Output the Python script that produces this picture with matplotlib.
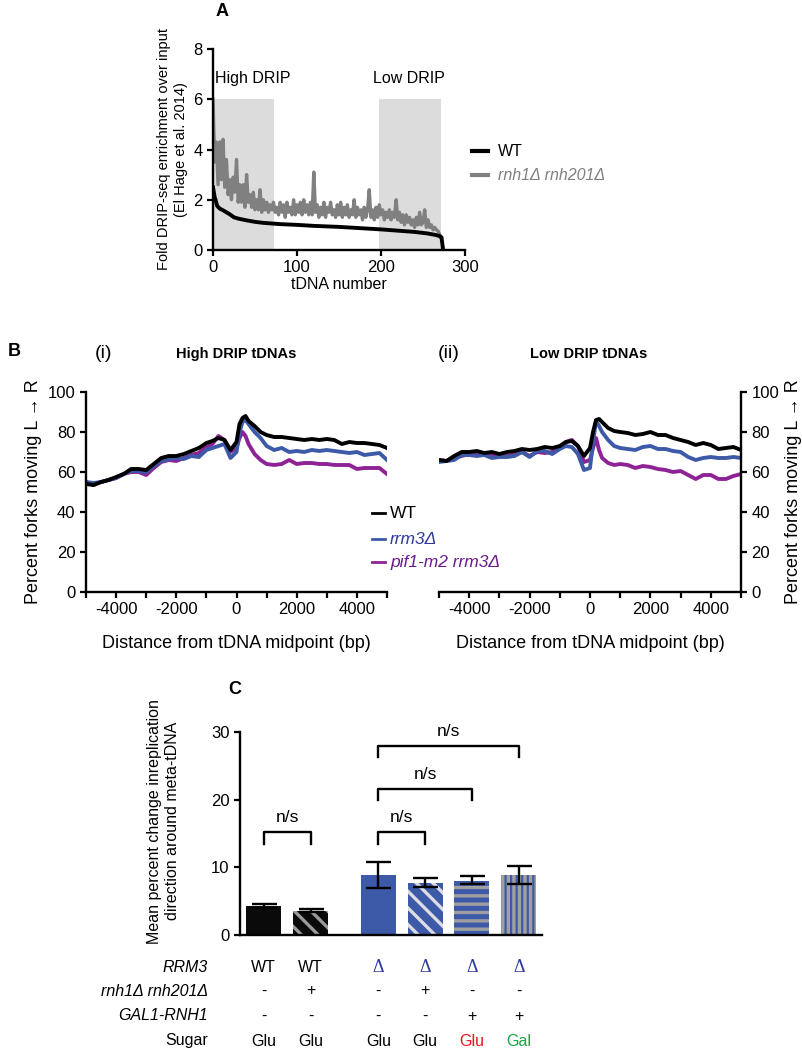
import numpy as np
import matplotlib.pyplot as plt
from matplotlib.lines import Line2D

plt.rcParams['font.family'] = ['Liberation Sans', 'DejaVu Sans']
plt.rcParams['hatch.linewidth'] = 2.4

# ---------------- data: panel A ----------------
wt_a_x = [0, 1, 2, 3, 5, 8, 12, 16, 20, 25, 30, 40, 50, 60, 80, 100, 120, 150,
          180, 200, 220, 240, 255, 265, 270, 272, 273, 274]
wt_a_y = [2.5, 2.3, 2.1, 2.0, 1.75, 1.65, 1.58, 1.5, 1.42, 1.3, 1.25, 1.18, 1.12,
          1.08, 1.03, 1.0, 0.96, 0.92, 0.86, 0.82, 0.77, 0.72, 0.66, 0.6, 0.55, 0.5, 0.25, 0.0]
rnh_a_y = [6.0, 3.5, 4.3, 2.6, 4.3, 2.8, 4.4, 2.5, 3.6, 2.2, 2.8, 2.0, 2.9, 2.3, 3.6, 1.9,
           2.6, 1.9, 2.6, 1.7, 3.0, 1.9, 2.2, 1.7, 2.3, 1.6, 2.0, 1.6, 2.4, 1.5, 2.0, 1.6,
           1.9, 1.5, 1.8, 1.6, 1.9, 1.5, 1.7, 1.4, 1.9, 1.5, 1.8, 1.3, 1.9, 1.5, 1.7, 1.4,
           2.0, 1.4, 1.8, 1.5, 1.9, 1.4, 2.0, 1.5, 1.8, 1.4, 1.9, 1.4, 3.1, 1.5, 1.8, 1.3,
           1.7, 1.4, 1.9, 1.3, 1.7, 1.5, 1.9, 1.4, 1.6, 1.3, 1.8, 1.4, 1.9, 1.3, 1.7, 1.4,
           1.8, 1.3, 1.6, 1.4, 2.0, 1.3, 1.7, 1.4, 1.6, 1.2, 1.7, 1.3, 1.6, 2.4, 1.3, 1.6,
           1.2, 1.7, 1.3, 1.8, 1.4, 1.6, 1.2, 1.5, 1.3, 1.6, 1.2, 1.5, 1.3, 2.0, 1.2, 1.5,
           1.1, 1.4, 1.0, 1.4, 1.1, 1.3, 1.0, 1.2, 0.9, 1.3, 1.0, 1.5, 1.0, 1.1, 1.6, 0.9,
           1.2, 0.9, 1.0, 0.8, 0.9, 0.8, 0.75, 0.6, 0.5]
rnh_a_x = np.arange(0, 2 * len(rnh_a_y), 2)
high_span = (0, 73)
low_span = (198, 272)

# ---------------- data: panel B ----------------
dist = [-5000, -4750, -4500, -4250, -4000, -3750, -3500, -3250, -3000, -2750, -2500,
        -2250, -2000, -1750, -1500, -1250, -1000, -800, -600, -400, -200, 0, 100, 200,
        300, 400, 600, 800, 1000, 1250, 1500, 1750, 2000, 2250, 2500, 2750, 3000, 3250,
        3500, 3750, 4000, 4250, 4500, 4750, 5000]

hi_wt = [54, 53.5, 55, 56, 57.5, 59, 61.5, 61.5, 61, 64, 67, 68, 68, 69, 70.5, 72, 74.5,
         75.5, 77, 76, 71, 75, 84, 87, 88, 85.5, 83, 80, 78.5, 77.5, 77.5, 77, 76.5, 76,
         76.5, 76, 76.5, 76, 74, 75, 74.5, 74.5, 74, 73.5, 72]
hi_rrm3 = [55, 54.5, 55, 56, 57, 59, 60.5, 60.5, 60, 63, 65.5, 66.5, 67, 66.5, 68, 67.5,
           71, 72, 73, 74, 67, 70, 80, 85, 86, 84, 80, 77, 73, 71, 72, 70, 70.5, 70, 71,
           70.5, 71, 70.5, 70, 69.5, 70, 68.5, 69, 69.5, 66]
hi_pif = [55, 53.5, 55, 56, 57, 59, 60, 60, 58.5, 62, 65, 66, 65.5, 67, 68.5, 69.5, 72.5,
          74, 78, 76, 70, 72, 77, 80, 78, 74, 69, 66, 64, 63.5, 64, 66, 64, 64.5, 64.5, 64,
          64, 63.5, 63.5, 63.5, 61.5, 62, 62, 62, 59]

lo_wt = [66, 65.5, 68, 70, 70, 70.5, 69.5, 70, 69, 70, 70.5, 71.5, 71, 71.5, 72.5, 72, 73,
         75, 75.5, 73, 68, 72, 80, 86, 86.5, 85, 82, 80.5, 80, 79.5, 78.5, 79, 80, 78.5,
         78.5, 77, 76, 75, 73.5, 74.5, 73.5, 71.5, 72, 72.5, 71]
lo_rrm3 = [65, 65.5, 66, 68.5, 68.5, 68, 68.5, 67, 67.5, 67.5, 68, 70, 67.5, 70.5, 70.5, 69,
           71.5, 73, 72.5, 69, 61, 62, 75, 85.5, 83, 80, 76, 73, 72, 71.5, 71, 72.5, 73,
           71.5, 71.5, 70.5, 70, 67.5, 66, 67, 67.5, 67, 67, 67.5, 67]
lo_pif = [66, 65.5, 67, 68, 69, 69, 69, 68, 68, 68, 69, 70, 68, 70, 69.5, 70, 72, 75, 76,
          73, 65, 66, 72, 77, 71, 67, 64.5, 63.5, 64, 63.5, 62, 63, 62.5, 61.5, 61, 60,
          60.5, 58.5, 56.5, 58.5, 58.5, 56.5, 56.5, 58, 59]

# ---------------- data: panel C ----------------
bar_pos = [0, 1, 2.45, 3.45, 4.45, 5.45]
bar_mean = [4.3, 3.6, 8.8, 7.7, 8.05, 8.8]
err_low = [0.3, 0.25, 1.9, 0.6, 0.5, 1.3]
err_high = [0.35, 0.3, 2.05, 0.7, 0.6, 1.4]
col_rrm3 = ['WT', 'WT', 'Δ', 'Δ', 'Δ', 'Δ']
col_rnh = ['-', '+', '-', '+', '-', '-']
col_gal = ['-', '-', '-', '-', '+', '+']
col_sugar = ['Glu', 'Glu', 'Glu', 'Glu', 'Glu', 'Gal']
brackets = [(0, 1, 13.4, 15.2), (2.45, 3.45, 13.4, 15.2), (2.45, 4.45, 19.9, 21.6),
            (2.45, 5.45, 26.3, 28.0)]

BLUE = '#3c5aa8'
PURPLE = '#8e2396'
W, H = 802, 1050

fig = plt.figure(figsize=(W / 100, H / 100), dpi=100)


def box(l, t, r, b):
    return [l / W, 1 - b / H, (r - l) / W, (b - t) / H]


def style(ax, right=False):
    for s in ['top', 'right', 'left', 'bottom']:
        ax.spines[s].set_visible(False)
    ax.spines['bottom'].set_visible(True)
    ax.spines['right' if right else 'left'].set_visible(True)
    for s in ax.spines.values():
        s.set_linewidth(1.7)
    ax.tick_params(width=1.6, length=4, labelsize=12)
    if right:
        ax.yaxis.tick_right()
        ax.yaxis.set_label_position('right')


# ---------------- panel A ----------------
axA = fig.add_axes(box(213, 49, 465, 250))
style(axA)
axA.fill_between(high_span, 0, 6, color='#dcdcdc', lw=0)
axA.fill_between(low_span, 0, 6, color='#dcdcdc', lw=0)
axA.plot(rnh_a_x, rnh_a_y, color='#808080', lw=2.4)
axA.plot(wt_a_x, wt_a_y, color='black', lw=2.8)
axA.set_xlim(0, 300)
axA.set_ylim(0, 8)
axA.set_xticks([0, 100, 200, 300])
axA.set_yticks([0, 2, 4, 6, 8])
axA.set_xlabel('tDNA number', fontsize=11.5, labelpad=1)
axA.set_ylabel('Fold DRIP-seq enrichment over input\n(El Hage et al. 2014)', fontsize=10.5)
axA.text(2, 6.65, 'High DRIP', fontsize=11.5)
axA.text(190, 6.65, 'Low DRIP', fontsize=11.5)
fig.text(216 / W, 1 - 12 / H, 'A', fontsize=13, fontweight='bold', va='center')

fig.add_artist(Line2D([472 / W, 488 / W], [1 - 151 / H] * 2, color='black', lw=3))
fig.text(498 / W, 1 - 151 / H, 'WT', fontsize=11.5, va='center')
fig.add_artist(Line2D([472 / W, 488 / W], [1 - 175 / H] * 2, color='#808080', lw=3))
fig.text(498 / W, 1 - 175 / H, 'rnh1Δ rnh201Δ', fontsize=11.5, va='center',
         style='italic', color='#808080')

# ---------------- panel B ----------------
ticks = list(range(-5000, 5001, 1000))
tick_labels = [str(t) if t % 2000 == 0 and abs(t) < 5000 else '' for t in ticks]

axB1 = fig.add_axes(box(86, 392, 387, 592))
axB2 = fig.add_axes(box(439, 392, 741, 592))
for ax, ys, right in [(axB1, (hi_wt, hi_rrm3, hi_pif), False),
                      (axB2, (lo_wt, lo_rrm3, lo_pif), True)]:
    style(ax, right)
    ax.plot(dist, ys[2], color=PURPLE, lw=2.8)
    ax.plot(dist, ys[1], color=BLUE, lw=2.8)
    ax.plot(dist, ys[0], color='black', lw=2.8)
    ax.set_xlim(-5000, 5000)
    ax.set_ylim(0, 100)
    ax.set_yticks(range(0, 101, 20))
    ax.set_xticks(ticks)
    ax.set_xticklabels(tick_labels)
    ax.set_xlabel('Distance from tDNA midpoint (bp)', fontsize=13, labelpad=13)
    ax.set_ylabel('Percent forks moving L → R', fontsize=13)

fig.text(8 / W, 1 - 352 / H, 'B', fontsize=13, fontweight='bold', va='center')
fig.text(95 / W, 1 - 354 / H, '(i)', fontsize=14, va='center')
fig.text(236 / W, 1 - 354 / H, 'High DRIP tDNAs', fontsize=10.5, fontweight='bold',
         ha='center', va='center')
fig.text(438 / W, 1 - 354 / H, '(ii)', fontsize=14, va='center')
fig.text(589 / W, 1 - 354 / H, 'Low DRIP tDNAs', fontsize=10.5, fontweight='bold',
         ha='center', va='center')

leg = [('WT', 'black', 'black', 'normal', 513),
       ('rrm3Δ', BLUE, '#2e3a9e', 'italic', 539),
       ('pif1-m2 rrm3Δ', PURPLE, '#6b1a8e', 'italic', 562)]
for txt, lc, tc, st, yy in leg:
    fig.add_artist(Line2D([372 / W, 385 / W], [1 - yy / H] * 2, color=lc, lw=2))
    fig.text(390 / W, 1 - yy / H, txt, fontsize=12.5, color=tc, style=st, va='center')

# ---------------- panel C ----------------
axC = fig.add_axes(box(240, 732, 542, 935))
style(axC)
axC.tick_params(axis='x', bottom=False, labelbottom=False)
faces = ['#0a0a0a', '#0a0a0a', BLUE, BLUE, BLUE, BLUE]
hatches = [None, '\\\\', None, '\\\\', '--', '|||']
hcols = [None, '#9a9a9a', None, '#dcdce4', '#a0a0a0', '#a0a0a0']
for i in range(len(bar_pos)):
    axC.bar(bar_pos[i], bar_mean[i], width=0.75, color=faces[i],
            hatch=hatches[i], edgecolor=hcols[i] if hcols[i] else faces[i], lw=0)
axC.errorbar(bar_pos, bar_mean, yerr=[err_low, err_high], fmt='none', ecolor='black',
             elinewidth=1.7, capsize=9, capthick=1.7)
for x1, x2, y0, y1 in brackets:
    axC.plot([x1, x1, x2, x2], [y0, y1, y1, y0], color='black', lw=1.7)
    axC.text((x1 + x2) / 2, y1 + 1.0, 'n/s', ha='center', va='bottom', fontsize=12.5)
axC.set_xlim(-0.51, 5.95)
axC.set_ylim(0, 30)
axC.set_yticks([0, 10, 20, 30])
axC.set_ylabel('Mean percent change inreplication\ndirection around meta-tDNA',
               fontsize=11.5, labelpad=10)
axC.yaxis.set_label_coords(-0.2, 0.56)
fig.text(228 / W, 1 - 690 / H, 'C', fontsize=13, fontweight='bold', va='center')

# table below panel C
rows = [('RRM3', 'italic', col_rrm3, 967),
        ('rnh1Δ rnh201Δ', 'italic', col_rnh, 991),
        ('GAL1-RNH1', 'italic', col_gal, 1016),
        ('Sugar', 'normal', col_sugar, 1041)]
for name, st, vals, yy in rows:
    fig.text(208 / W, 1 - yy / H, name, fontsize=11.5, style=st, ha='right', va='center')
    for i, v in enumerate(vals):
        xx = axC.transData.transform((bar_pos[i], 0))[0] / fig.dpi / fig.get_figwidth()
        c = 'black'
        fam = None
        fs = 11.5
        if v == 'Δ':
            c = '#2e3a9e'
            fam = 'Liberation Serif'
            fs = 13
        if name == 'Sugar' and i == 4:
            c = '#e8141b'
        if name == 'Sugar' and i == 5:
            c = '#1aa34a'
        fig.text(xx, 1 - yy / H, v, fontsize=fs, color=c, ha='center', va='center',
                 family=fam if fam else ['Liberation Sans', 'DejaVu Sans'])

fig.savefig('out.png', dpi=100)
